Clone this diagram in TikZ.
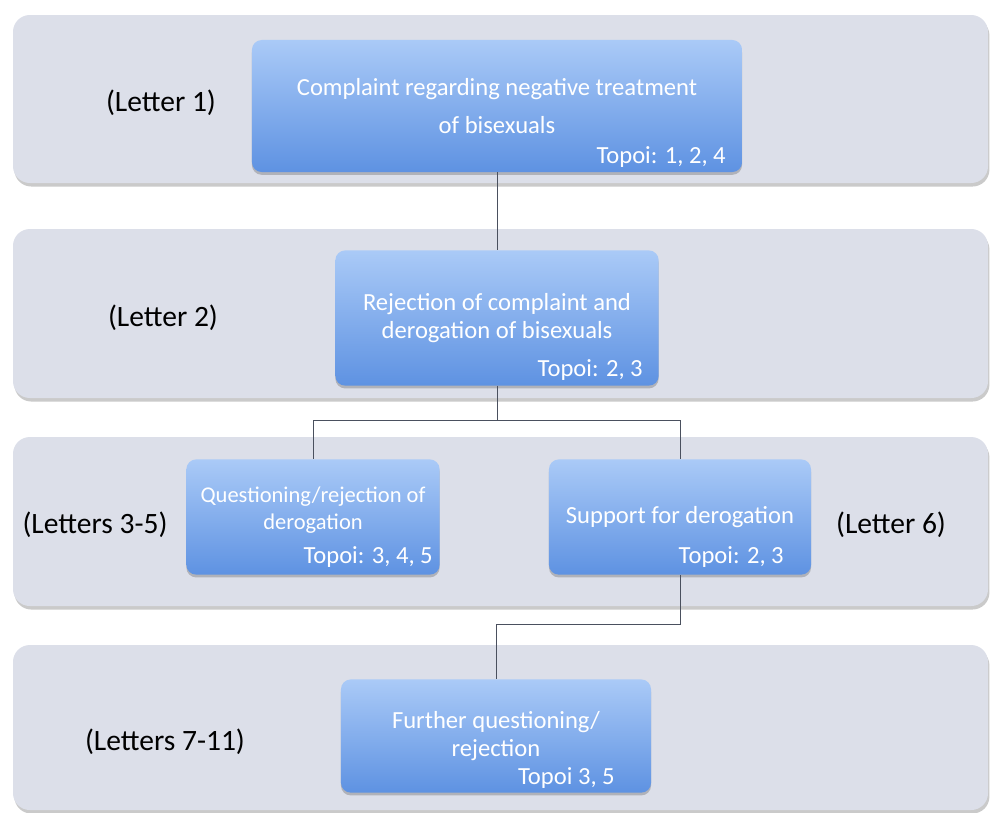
\documentclass[tikz,border=0pt]{standalone}
\usepackage{fontspec}
\setmainfont{Carlito}
\usetikzlibrary{shadows}
\definecolor{bandgray}{HTML}{DCDFE9}
\definecolor{boxtop}{HTML}{AACAF7}
\definecolor{boxbot}{HTML}{5E92E2}
\definecolor{linegray}{HTML}{4A505E}
\begin{document}
\begin{tikzpicture}[x=0.025cm, y=-0.025cm,
    band/.style={fill=bandgray, rounded corners=12pt, drop shadow={shadow xshift=1pt, shadow yshift=-2.5pt, opacity=.35, fill=black!60}},
    stage/.style={rounded corners=7pt, top color=boxtop, bottom color=boxbot, text=white, align=center, inner sep=0pt,
      font=\fontsize{17.5}{19.5}\selectfont, drop shadow={shadow xshift=0pt, shadow yshift=-2pt, opacity=.3, fill=black!70}},
    topoi/.style={anchor=east, text=white, font=\fontsize{17.5}{19}\selectfont, inner sep=0pt},
    letter/.style={font=\fontsize{21}{25}\selectfont, inner sep=0pt},
    link/.style={draw=linegray, line width=0.7pt}]
    \useasboundingbox (0,0) rectangle (990,812);
    \clip (0,0) rectangle (990,812);
    % rows
    \path[band] (13,15) rectangle (988,183);
    \path[band] (13,229) rectangle (988,398);
    \path[band] (13,437) rectangle (988,606);
    \path[band] (13,645) rectangle (988,810);
    % letters
    \node[letter] (l1) at (161,103) {(Letter 1)};
    \node[letter] (l2) at (163,318) {(Letter 2)};
    \node[letter] (l35) at (95,525) {(Letters 3-5)};
    \node[letter] (l6) at (891,525) {(Letter 6)};
    \node[letter] (l711) at (165,742) {(Letters 7-11)};
    % stages
    \node[stage, minimum width=12.25cm, minimum height=3.3cm] (complaint) at (497,106) {Complaint regarding negative treatment\\[8pt] of bisexuals};
    \node[stage, minimum width=8.08cm, minimum height=3.38cm] (rejection) at (497,318) {Rejection of complaint and\\ derogation of bisexuals};
    \node[stage, minimum width=6.33cm, minimum height=2.88cm, font=\fontsize{16}{19}\selectfont] (questioning) at (313,517) {Questioning/rejection of\\ derogation\\[-6pt]};
    \node[stage, minimum width=6.55cm, minimum height=2.88cm] (support) at (680,517) {Support for derogation};
    \node[stage, minimum width=7.75cm, minimum height=2.83cm] (further) at (496,736) {Further questioning/\\ rejection};
    \node[topoi] (t1) at (726,157) {Topoi: 1, 2, 4};
    \node[topoi] (t2) at (643,370) {Topoi: 2, 3};
    \node[topoi] (t3) at (433,557) {Topoi: 3, 4, 5};
    \node[topoi] (t4) at (784,557) {Topoi: 2, 3};
    \node[topoi] (t5) at (615,778) {Topoi 3, 5};
    % links
    \draw[link] (complaint.south) -- (rejection.north);
    \draw[link] (rejection.south) -- ++(0,35) -| (questioning.north);
    \draw[link] (rejection.south) -- ++(0,35) -| (support.north);
    \draw[link] (support.south) -- ++(0,50) -| (further.north);
  \end{tikzpicture}
\end{document}
